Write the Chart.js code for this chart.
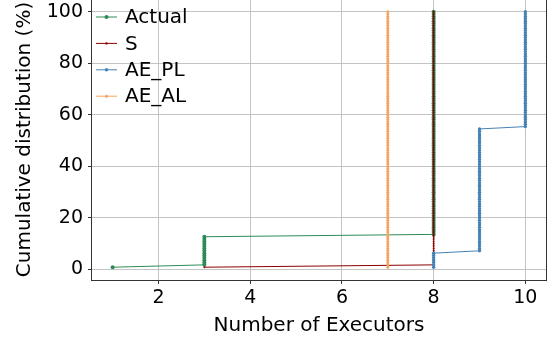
<!DOCTYPE html>
<html>
<head>
<meta charset="utf-8">
<script src="https://cdn.jsdelivr.net/npm/chart.js@4/dist/chart.umd.min.js"></script>
<style>
  html, body { margin: 0; padding: 0; background: #fff; }
  #wrap { position: relative; width: 556px; height: 345px; overflow: hidden; }
  #c { position: absolute; left: 0; top: -4px; }
</style>
</head>
<body>
<div id="wrap"><canvas id="c" width="556" height="348"></canvas></div>
<script>
// Executor counts observed per run, per strategy (number of runs at each executor count)
const actualExecutors = [1, 3, 8];
const actualRuns      = [1, 13, 96];
const sExecutors      = [3, 8];
const sRuns           = [1, 109];
const aePlExecutors   = [8, 9, 10];
const aePlRuns        = [7, 53, 50];
const aeAlExecutors   = [7];
const aeAlRuns        = [110];

const seriesNames  = ['Actual', 'S', 'AE_PL', 'AE_AL'];
const seriesColors = ['#2e8b57', '#8b0000', '#4682b4', '#f4a460'];
const markerSizes  = [2.0, 1.0, 1.7, 1.5];

const xTicks = [2, 4, 6, 8, 10];
const yTicks = [0, 20, 40, 60, 80, 100];

// Empirical CDF: one point per run, sorted by executor count
function cdfPoints(executors, runs) {
  const total = runs.reduce((a, b) => a + b, 0);
  const pts = [];
  let seen = 0;
  executors.forEach((e, k) => {
    for (let r = 0; r < runs[k]; r++) {
      seen += 1;
      pts.push({ x: e, y: seen / total * 100 });
    }
  });
  return pts;
}

const seriesData = [
  cdfPoints(actualExecutors, actualRuns),
  cdfPoints(sExecutors, sRuns),
  cdfPoints(aePlExecutors, aePlRuns),
  cdfPoints(aeAlExecutors, aeAlRuns)
];

const FONT = "'DejaVu Sans', sans-serif";

const datasets = seriesNames.map((name, i) => ({
  label: name,
  data: seriesData[i],
  borderColor: seriesColors[i],
  backgroundColor: seriesColors[i],
  borderWidth: 1,
  pointRadius: markerSizes[i],
  pointBorderWidth: 0,
  pointHoverRadius: markerSizes[i],
  tension: 0,
  order: seriesNames.length - i   // later series are painted on top
}));

// Frame around the plotting area
const framePlugin = {
  id: 'frame',
  afterDatasetsDraw(chart) {
    const { ctx, chartArea: a } = chart;
    ctx.save();
    ctx.strokeStyle = '#333';
    ctx.lineWidth = 1;
    ctx.strokeRect(Math.round(a.left) - 0.5, Math.round(a.top) + 0.5,
                   Math.round(a.right - a.left) + 1, Math.round(a.bottom - a.top));
    ctx.restore();
  }
};

// Legend drawn inside the top-left corner: short line with a marker, then the name
const lineLegendPlugin = {
  id: 'lineLegend',
  afterDraw(chart) {
    const { ctx, chartArea: a } = chart;
    ctx.save();
    ctx.font = '20px ' + FONT;
    ctx.textBaseline = 'middle';
    ctx.textAlign = 'left';
    chart.data.datasets.forEach((ds, i) => {
      const y = 21 + i * 26.4;
      const x0 = a.left + 4, x1 = a.left + 25;
      ctx.strokeStyle = ds.borderColor;
      ctx.lineWidth = 1;
      ctx.beginPath();
      ctx.moveTo(x0, y);
      ctx.lineTo(x1, y);
      ctx.stroke();
      ctx.fillStyle = ds.borderColor;
      ctx.beginPath();
      ctx.arc((x0 + x1) / 2, y, Math.max(ds.pointRadius, 1.2), 0, Math.PI * 2);
      ctx.fill();
      ctx.fillStyle = '#000';
      ctx.fillText(ds.label, a.left + 33, y + 1);
    });
    ctx.restore();
  }
};

new Chart(document.getElementById('c'), {
  type: 'line',
  data: { datasets },
  plugins: [framePlugin, lineLegendPlugin],
  options: {
    responsive: false,
    animation: false,
    events: [],
    layout: { padding: { top: 3, right: 10, left: 0, bottom: 0 } },
    plugins: { legend: { display: false }, tooltip: { enabled: false } },
    scales: {
      x: {
        type: 'linear',
        min: 0.55,
        max: 10.45,
        afterBuildTicks: s => { s.ticks = xTicks.map(v => ({ value: v })); },
        afterFit: s => { s.height = 64; s.paddingLeft = 0; s.paddingRight = 0; },
        grid: { color: '#c4c4c4', lineWidth: 1, tickColor: '#333', tickLength: 4 },
        border: { display: false },
        ticks: { color: '#000', font: { family: FONT, size: 19 }, padding: 3, maxRotation: 0 },
        title: { display: true, text: 'Number of Executors', color: '#000',
                 font: { family: FONT, size: 20 }, padding: { top: 0, bottom: 6 } }
      },
      y: {
        type: 'linear',
        min: -4.05,
        max: 104.95,
        afterBuildTicks: s => { s.ticks = yTicks.map(v => ({ value: v })); },
        afterFit: s => { s.width = 92; s.paddingTop = 0; s.paddingBottom = 0; },
        grid: { color: '#c4c4c4', lineWidth: 1, tickColor: '#333', tickLength: 4 },
        border: { display: false },
        ticks: { color: '#000', font: { family: FONT, size: 19 }, padding: 5 },
        title: { display: true, text: 'Cumulative distribution (%)', color: '#000',
                 font: { family: FONT, size: 20 }, padding: { top: 13, bottom: 0 } }
      }
    }
  }
});
</script>
</body>
</html>
